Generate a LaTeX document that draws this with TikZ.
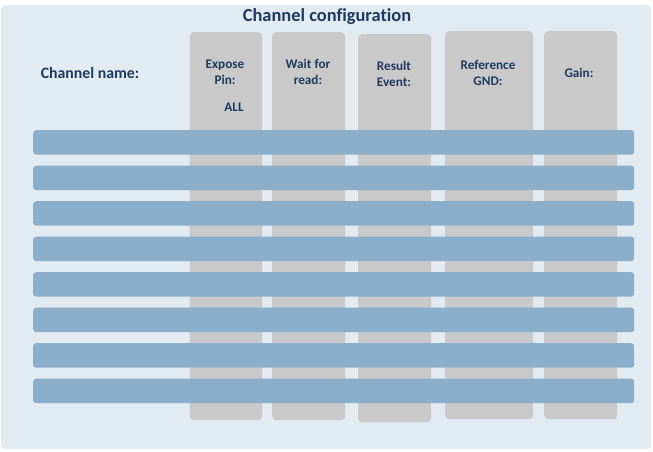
\documentclass[tikz,border=0pt]{standalone}
\usepackage{fontspec}
\setmainfont{Carlito}[Ligatures=NoCommon]
\definecolor{panelbg}{HTML}{E2EAF2}
\definecolor{colgrey}{HTML}{C8C9C8}
\definecolor{rowblue}{HTML}{8BAFCB}
\definecolor{txt}{HTML}{1F3A5F}
\begin{document}
\begin{tikzpicture}[x=1pt,y=-1pt,
  panelbox/.style={fill=panelbg, draw=none, rounded corners=4pt, inner sep=0pt, anchor=north west},
  colbox/.style={fill=colgrey, draw=none, rounded corners=4pt, inner sep=0pt, anchor=north west, minimum height=388pt},
  rowbox/.style={fill=rowblue, draw=none, rounded corners=3pt, inner sep=0pt, anchor=north west, minimum width=601pt, minimum height=24.5pt},
  lbl/.style={text=txt, font=\bfseries\fontsize{13.2}{16}\selectfont, align=center, inner sep=0pt},
  titlelbl/.style={text=txt, font=\bfseries\fontsize{18.4}{20}\selectfont, inner sep=0pt},
  namelbl/.style={text=txt, font=\bfseries\fontsize{15.8}{18}\selectfont, inner sep=0pt}
]
\useasboundingbox (0,0) rectangle (653,451);
\fill[white] (0,0) rectangle (653,451);
\node[panelbox, minimum width=650pt, minimum height=444pt] (panel) at (1,5) {};
\node[titlelbl] (title) at (327,17) {Channel configuration};
\node[namelbl] (chname) at (90,73) {Channel name:};
% columns
\node[colbox, minimum width=72.5pt] (c1) at (189.5,32) {};
\node[colbox, minimum width=73pt] (c2) at (272,32) {};
\node[colbox, minimum width=73pt] (c3) at (358,34) {};
\node[colbox, minimum width=88pt] (c4) at (445,31) {};
\node[colbox, minimum width=73pt] (c5) at (544,31) {};
% column labels
\node[lbl] (l1) at (225,72) {Expose\\Pin:};
\node[lbl] (l1b) at (234,107) {ALL};
\node[lbl] (l2) at (308,72) {Wait for\\read:};
\node[lbl] (l3) at (394,74) {Result\\Event:};
\node[lbl] (l4) at (488,73) {Reference\\GND:};
\node[lbl] (l5) at (579,73) {Gain:};
% rows
\foreach \i/\y in {1/130,2/165.5,3/201,4/236.5,5/272,6/307.5,7/343,8/378.5}{
  \node[rowbox] (r\i) at (33,\y) {};
}
\end{tikzpicture}
\end{document}
